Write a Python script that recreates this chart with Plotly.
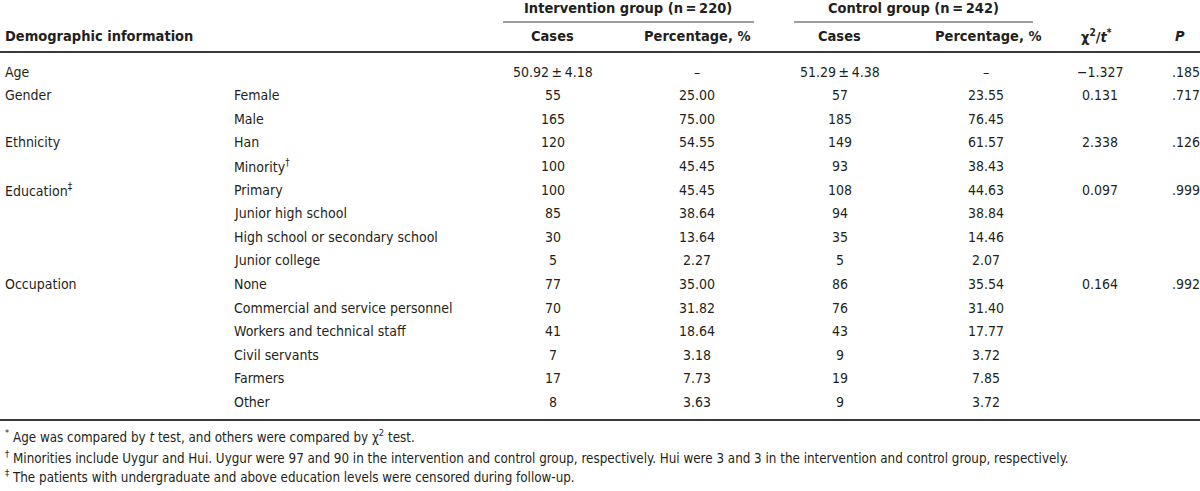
import plotly.graph_objects as go

# ---------------- data ----------------
categories = ["Age", "Gender", "", "Ethnicity", "", "Education<sup>‡</sup>", "", "", "",
              "Occupation", "", "", "", "", ""]
subcategories = ["", "Female", "Male", "Han", "Minority<sup>†</sup>", "Primary",
                 "Junior high school", "High school or secondary school", "Junior college",
                 "None", "Commercial and service personnel", "Workers and technical staff",
                 "Civil servants", "Farmers", "Other"]
int_cases = ["50.92\u2009±\u20094.18", "55", "165", "120", "100", "100", "85", "30", "5",
             "77", "70", "41", "7", "17", "8"]
int_pct = ["–", "25.00", "75.00", "54.55", "45.45", "45.45", "38.64", "13.64", "2.27",
           "35.00", "31.82", "18.64", "3.18", "7.73", "3.63"]
ctrl_cases = ["51.29\u2009±\u20094.38", "57", "185", "149", "93", "108", "94", "35", "5",
              "86", "76", "43", "9", "19", "9"]
ctrl_pct = ["–", "23.55", "76.45", "61.57", "38.43", "44.63", "38.84", "14.46", "2.07",
            "35.54", "31.40", "17.77", "3.72", "7.85", "3.72"]
stat_vals = ["−1.327", "0.131", "", "2.338", "", "0.097", "", "", "", "0.164", "", "", "", "", ""]
p_vals = [".185", ".717", "", ".126", "", ".999", "", "", "", ".992", "", "", "", "", ""]

group_headers = ["Intervention group (n\u2009=\u2009220)", "Control group (n\u2009=\u2009242)"]
col_headers = ["Cases", "Percentage, %", "Cases", "Percentage, %",
               "χ<sup>2</sup>/<i>t</i><sup>*</sup>", "<i>P</i>"]
row_header = "Demographic information"
footnotes = [
    "<sup>*</sup> Age was compared by <i>t</i> test, and others were compared by χ<sup>2</sup> test.",
    "<sup>†</sup> Minorities include Uygur and Hui. Uygur were 97 and 90 in the intervention and control group, respectively. Hui were 3 and 3 in the intervention and control group, respectively.",
    "<sup>‡</sup> The patients with undergraduate and above education levels were censored during follow-up.",
]

# ---------------- layout constants ----------------
W, H = 1200, 491
FONT = "DejaVu Sans Condensed, Liberation Sans Narrow, sans-serif"
TXT = "#231f20"
LINE = "#3a3a3a"
BODY = 14
HEAD = 14.5
FOOT = 13.3

x_cat, x_sub = 3, 232
col_centers = [553, 697, 840, 986, 1100, 1186]
head_centers = [552, 697, 839, 988, 1096, 1180]
group_centers = [628, 913]
group_lines = [(503, 754), (794, 1033)]
y_group, y_group_line, y_head, y_thick = 8, 22, 36, 52
y_row0, row_step = 71.5, 23.6
y_bottom = 420
y_foot = [436, 457, 476]

fig = go.Figure()
ann = []


def add(x, y, text, anchor="center", size=BODY, bold=False):
    ann.append(dict(x=x, y=y, xref="x", yref="y", text=("<b>%s</b>" % text) if bold else text,
                    showarrow=False, xanchor=anchor, yanchor="middle",
                    font=dict(family=FONT, size=size, color=TXT)))


# headers
for gx, gt in zip(group_centers, group_headers):
    add(gx, y_group, gt, size=HEAD, bold=True)
add(x_cat, y_head, row_header, anchor="left", size=HEAD, bold=True)
for hx, ht in zip(head_centers, col_headers):
    add(hx, y_head, ht, size=HEAD, bold=True)

# body
columns = [int_cases, int_pct, ctrl_cases, ctrl_pct, stat_vals, p_vals]
for i in range(len(subcategories)):
    y = y_row0 + i * row_step
    if categories[i]:
        add(x_cat, y, categories[i], anchor="left")
    if subcategories[i]:
        add(x_sub, y, subcategories[i], anchor="left")
    for cx, col in zip(col_centers, columns):
        if col[i]:
            add(cx, y, col[i])

# footnotes
for fy, ft in zip(y_foot, footnotes):
    add(x_cat, fy, ft, anchor="left", size=FOOT)

shapes = []
for (x0, x1) in group_lines:
    shapes.append(dict(type="line", xref="x", yref="y", x0=x0, x1=x1, y0=y_group_line,
                       y1=y_group_line, line=dict(color=LINE, width=1.2)))
for yl in (y_thick, y_bottom):
    shapes.append(dict(type="line", xref="x", yref="y", x0=0, x1=W, y0=yl, y1=yl,
                       line=dict(color=LINE, width=2)))

fig.update_layout(
    width=W, height=H,
    margin=dict(l=0, r=0, t=0, b=0),
    paper_bgcolor="white", plot_bgcolor="white",
    xaxis=dict(range=[0, W], visible=False, fixedrange=True),
    yaxis=dict(range=[H, 0], visible=False, fixedrange=True),
    annotations=ann, shapes=shapes, showlegend=False,
)

fig.write_html(
    "out.html",
    config={"displayModeBar": False},
    post_script="document.body.style.margin='0';document.body.style.overflow='hidden';",
)
